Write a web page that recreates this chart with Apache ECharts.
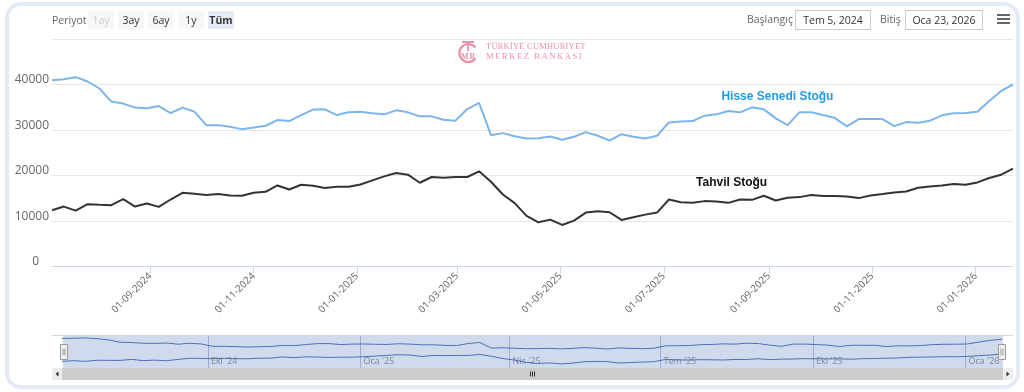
<!DOCTYPE html>
<html>
<head>
<meta charset="utf-8">
<script src="https://cdn.jsdelivr.net/npm/echarts@6/dist/echarts.min.js"></script>
<style>
  html, body { margin:0; padding:0; background:#fff; }
  body { width:1024px; height:392px; position:relative; overflow:hidden; font-family:'Open Sans', sans-serif; }
  #frame { position:absolute; left:5px; top:2px; width:1007px; height:379px; border:4px solid #e4e9f6; border-radius:16px; box-sizing:content-box; }
  #chart { position:absolute; left:0; top:0; width:1024px; height:392px; }
  .t { position:absolute; font-size:10.5px; color:#666; line-height:18px; white-space:nowrap; }
  .btn { position:absolute; top:11px; width:26px; height:18px; background:#f7f7f7; font-size:10.5px; color:#333; line-height:18px; text-align:center; }
  .box { position:absolute; top:10px; height:18px; border:1px solid #cccccc; font-size:10.5px; color:#333; line-height:18px; text-align:center; background:#fff; }
  .ham { position:absolute; left:997px; width:13px; height:2px; background:#666; }
  .logo { position:absolute; left:486px; font-family:'Liberation Serif', serif; font-size:8.5px; color:#e892a6; white-space:nowrap; line-height:10px; }
</style>
</head>
<body>
<div id="frame"></div>
<div id="chart"></div>

<div class="t" style="left:52px;top:11px;">Periyot</div>
<div class="btn" style="left:88px;color:#cccccc;">1ay</div>
<div class="btn" style="left:118px;">3ay</div>
<div class="btn" style="left:148px;">6ay</div>
<div class="btn" style="left:178px;">1y</div>
<div class="btn" style="left:208px;background:#e6ebf5;font-weight:bold;">Tüm</div>

<div class="t" style="left:747px;top:10px;">Başlangıç</div>
<div class="box" style="left:795px;width:74px;">Tem 5, 2024</div>
<div class="t" style="left:880px;top:10px;">Bitiş</div>
<div class="box" style="left:905px;width:76px;">Oca 23, 2026</div>
<div class="ham" style="top:14px;"></div>
<div class="ham" style="top:18px;"></div>
<div class="ham" style="top:22px;"></div>

<svg style="position:absolute;left:455px;top:39px;" width="26" height="26" viewBox="0 0 26 26">
  <path d="M20.5 8.5 A9 9 0 1 0 20.5 19.5" fill="none" stroke="#e892a6" stroke-width="2.2"/>
  <path d="M7 3 H19 M13 3 V12" fill="none" stroke="#e892a6" stroke-width="1.8"/>
  <text x="6" y="20" font-family="Liberation Serif, serif" font-size="8" font-weight="bold" fill="#e892a6">M</text>
  <text x="14.5" y="20" font-family="Liberation Serif, serif" font-size="8" font-weight="bold" fill="#e892a6">B</text>
</svg>
<div class="logo" style="top:41px;letter-spacing:0.2px;">TÜRKİYE CUMHURİYET</div>
<div class="logo" style="top:51px;letter-spacing:1.6px;">MERKEZ BANKASI</div>

<script>
// ---- data ----
const dates = [
  '2024-07-05','2024-07-12','2024-07-19','2024-07-26','2024-08-02','2024-08-09','2024-08-16','2024-08-23','2024-08-30',
  '2024-09-06','2024-09-13','2024-09-20','2024-09-27','2024-10-04','2024-10-11','2024-10-18','2024-10-25',
  '2024-11-01','2024-11-08','2024-11-15','2024-11-22','2024-11-29','2024-12-06','2024-12-13','2024-12-20','2024-12-27',
  '2025-01-03','2025-01-10','2025-01-17','2025-01-24','2025-01-31','2025-02-07','2025-02-14','2025-02-21','2025-02-28',
  '2025-03-07','2025-03-14','2025-03-21','2025-03-28','2025-04-04','2025-04-11','2025-04-18','2025-04-25',
  '2025-05-02','2025-05-09','2025-05-16','2025-05-23','2025-05-30','2025-06-06','2025-06-13','2025-06-20','2025-06-27',
  '2025-07-04','2025-07-11','2025-07-18','2025-07-25','2025-08-01','2025-08-08','2025-08-15','2025-08-22','2025-08-29',
  '2025-09-05','2025-09-12','2025-09-19','2025-09-26','2025-10-03','2025-10-10','2025-10-17','2025-10-24','2025-10-31',
  '2025-11-07','2025-11-14','2025-11-21','2025-11-28','2025-12-05','2025-12-12','2025-12-19','2025-12-26',
  '2026-01-02','2026-01-09','2026-01-16','2026-01-23'
];
const hisseSenedi = [
  40950,41170,41610,40660,39120,36240,35800,34920,34760,
  35270,33730,34920,34030,31070,31070,30720,30190,
  30560,30940,32180,31960,33280,34480,34540,33280,33880,
  34030,33660,33440,34320,33880,33000,33000,32270,32050,
  34610,35940,28860,29310,28640,28130,28200,28580,
  27850,28510,29530,28730,27690,29080,28510,28130,28730,
  31670,31890,31960,33150,33440,34170,33880,34980,34540,
  32550,31070,33880,33880,33280,32620,30790,32400,32400,
  32400,30850,31740,31600,32050,33220,33660,33730,
  34030,36380,38590,40000
];
const tahvil = [
  12380,13170,12290,13700,13550,13480,14810,13170,13840,
  13100,14720,16200,15980,15690,15910,15600,15540,
  16200,16420,17810,16930,17970,17750,17240,17530,17530,
  18030,18920,19800,20550,20180,18410,19670,19510,19670,
  19670,20910,18630,15820,13920,11120,9720,10300,
  9130,10080,11850,12160,11930,10230,10830,11400,11850,
  14720,14140,14000,14370,14280,13990,14720,14650,15540,
  14500,15090,15250,15690,15470,15470,15380,15030,15600,
  15910,16270,16490,17300,17590,17810,18120,17970,
  18480,19450,20180,21500
];
const xTickDates = ['2024-09-01','2024-11-01','2025-01-01','2025-03-01','2025-05-01','2025-07-01','2025-09-01','2025-11-01','2026-01-01'];
const navTickDates = ['2024-10-01','2025-01-01','2025-04-01','2025-07-01','2025-10-01','2026-01-01'];
const yTicks = [0, 10000, 20000, 30000, 40000];
const seriesNames = ['Hisse Senedi Stoğu', 'Tahvil Stoğu'];
const trMonths = ['Oca','Şub','Mar','Nis','May','Haz','Tem','Ağu','Eyl','Eki','Kas','Ara'];
const rangeStart = '2024-07-05', rangeEnd = '2026-01-23';

// ---- helpers ----
function ts(s){ const p = s.split('-'); return new Date(+p[0], +p[1]-1, +p[2]).getTime(); }
function pad(n){ return (n<10?'0':'') + n; }
function fmtMain(v){ const d = new Date(v); return pad(d.getDate()) + '-' + pad(d.getMonth()+1) + '-' + d.getFullYear(); }
function fmtNav(v){ const d = new Date(v); return trMonths[d.getMonth()] + " '" + String(d.getFullYear()).slice(2); }

const blueData = dates.map((d,i)=>[ts(d), hisseSenedi[i]]);
const blackData = dates.map((d,i)=>[ts(d), tahvil[i]]);
const xMin = ts(rangeStart), xMax = ts(rangeEnd);
const FONT = 'Open Sans';

const chart = echarts.init(document.getElementById('chart'), null, {renderer:'canvas'});
chart.setOption({
  animation: false,
  textStyle: { fontFamily: FONT },
  grid: [
    { left: 52, right: 11, top: 39, bottom: 125.5 },
    { left: 62, right: 22, top: 336, height: 32 }
  ],
  xAxis: [
    {
      type: 'value', gridIndex: 0, min: xMin, max: xMax, scale: true,
      axisLine: { show: true, lineStyle: { color: '#ccd6eb', width: 1 } },
      axisTick: { show: true, length: 7, lineStyle: { color: '#ccd6eb' }, customValues: xTickDates.map(ts) },
      axisLabel: { customValues: xTickDates.map(ts), rotate: 45, fontSize: 10, color: '#666', margin: 8, formatter: fmtMain, fontFamily: FONT },
      splitLine: { show: false }
    },
    {
      type: 'value', gridIndex: 1, min: xMin, max: xMax, scale: true,
      axisLine: { show: false },
      axisTick: { show: false, customValues: navTickDates.map(ts) },
      axisLabel: { customValues: navTickDates.map(ts), inside: true, align: 'left', padding: [0,0,0,3], margin: 2, fontSize: 9, color: '#8a8a8a', formatter: fmtNav, fontFamily: FONT },
      splitLine: { show: true, lineStyle: { color: '#b3bdd8', width: 1 } }
    }
  ],
  yAxis: [
    {
      type: 'value', gridIndex: 0, min: 0, max: 50000, interval: 10000,
      axisLine: { show: false }, axisTick: { show: false },
      axisLabel: {
        color: '#666', fontSize: 12, margin: 3, padding: [0,0,9,0], fontFamily: FONT,
        formatter: function(v){ if (yTicks.indexOf(v) < 0) return ''; return v === 0 ? '{z|0}' : String(v); },
        rich: { z: { color: '#666', fontSize: 12, padding: [0,10,0,0], fontFamily: FONT } }
      },
      splitLine: { show: true, lineStyle: { color: '#e6e6e6', width: 1 } }
    },
    { type: 'value', gridIndex: 1, min: 4000, max: 44000, show: false, splitLine: { show: false } }
  ],
  dataZoom: [{
    type: 'slider', xAxisIndex: 0, start: 0, end: 100,
    left: 62, right: 22, top: 336, height: 32,
    showDataShadow: false, showDetail: false, brushSelect: false, moveHandleSize: 0,
    backgroundColor: 'rgba(0,0,0,0)', borderColor: 'rgba(0,0,0,0)',
    fillerColor: 'rgba(102,133,194,0.3)',
    handleIcon: 'path://M0,0 L7,0 L7,15 L0,15 Z M2.5,4 L2.5,11 M4.5,4 L4.5,11',
    handleSize: 15,
    handleStyle: { color: '#f2f2f2', borderColor: '#999999', borderWidth: 1 }
  }],
  series: [
    {
      name: seriesNames[0], type: 'line', xAxisIndex: 0, yAxisIndex: 0, data: blueData,
      symbol: 'none', color: '#7cb5ec', lineStyle: { width: 2, color: '#7cb5ec' },
      markPoint: {
        symbol: 'circle', symbolSize: 0, silent: true,
        label: { show: true, position: 'inside', formatter: seriesNames[0], color: '#1e9ce8', fontSize: 12, fontWeight: 'bold', fontFamily: 'Liberation Sans' },
        data: [{ coord: [ts('2025-09-06'), 37300] }]
      }
    },
    {
      name: seriesNames[1], type: 'line', xAxisIndex: 0, yAxisIndex: 0, data: blackData,
      symbol: 'none', color: '#333333', lineStyle: { width: 2, color: '#333333' },
      markPoint: {
        symbol: 'circle', symbolSize: 0, silent: true,
        label: { show: true, position: 'inside', formatter: seriesNames[1], color: '#111', fontSize: 12, fontWeight: 'bold', fontFamily: 'Liberation Sans' },
        data: [{ coord: [ts('2025-08-10'), 18400] }]
      }
    },
    { name: seriesNames[0] + ' nav', type: 'line', xAxisIndex: 1, yAxisIndex: 1, data: blueData, symbol: 'none', silent: true, lineStyle: { width: 1, color: '#3d67b8' }, color: '#3d67b8' },
    { name: seriesNames[1] + ' nav', type: 'line', xAxisIndex: 1, yAxisIndex: 1, data: blackData, symbol: 'none', silent: true, lineStyle: { width: 1, color: '#3d67b8' }, color: '#3d67b8' }
  ],
  graphic: [
    { type: 'line', silent: true, shape: { x1: 52, y1: 335.5, x2: 1013, y2: 335.5 }, style: { stroke: '#d8d8d8', lineWidth: 1 } },
    { type: 'rect', silent: true, shape: { x: 52, y: 368, width: 961, height: 12 }, style: { fill: '#cccccc' } },
    { type: 'rect', silent: true, shape: { x: 52, y: 368, width: 10, height: 12 }, style: { fill: '#ececec' } },
    { type: 'rect', silent: true, shape: { x: 1003, y: 368, width: 10, height: 12 }, style: { fill: '#ececec' } },
    { type: 'polygon', silent: true, shape: { points: [[58.5,371.5],[58.5,376.5],[55.5,374]] }, style: { fill: '#333' } },
    { type: 'polygon', silent: true, shape: { points: [[1006.5,371.5],[1006.5,376.5],[1009.5,374]] }, style: { fill: '#333' } },
    { type: 'line', silent: true, shape: { x1: 530.5, y1: 371.5, x2: 530.5, y2: 376.5 }, style: { stroke: '#333', lineWidth: 1 } },
    { type: 'line', silent: true, shape: { x1: 532.5, y1: 371.5, x2: 532.5, y2: 376.5 }, style: { stroke: '#333', lineWidth: 1 } },
    { type: 'line', silent: true, shape: { x1: 534.5, y1: 371.5, x2: 534.5, y2: 376.5 }, style: { stroke: '#333', lineWidth: 1 } }
  ]
});
</script>
</body>
</html>
